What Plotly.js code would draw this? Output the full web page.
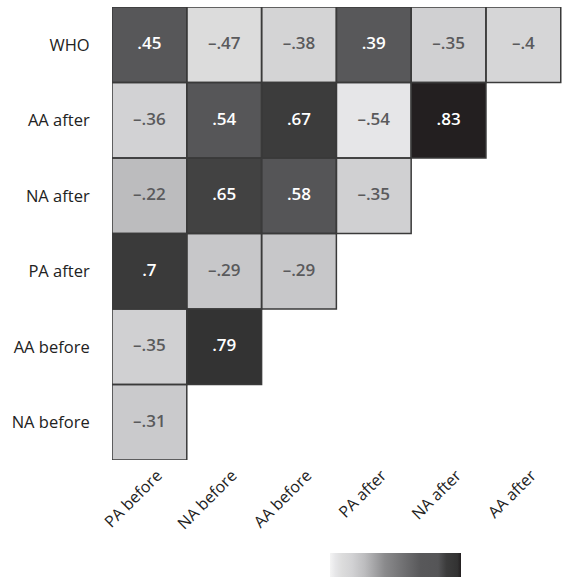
<!DOCTYPE html>
<html>
<head>
<meta charset="utf-8">
<script src="https://cdn.plot.ly/plotly-3.0.1.min.js"></script>
<style>html,body{margin:0;padding:0;background:#fff;}#chart{width:563px;height:577px;}</style>
</head>
<body>
<div id="chart"></div>
<script>
// Column (x) and row (y, top to bottom) labels
const colLabels = ['PA before', 'NA before', 'AA before', 'PA after', 'NA after', 'AA after'];
const rowLabels = ['WHO', 'AA after', 'NA after', 'PA after', 'AA before', 'NA before'];

// Correlation values per row (null = empty cell)
const rowWHO      = [0.45, -0.47, -0.38, 0.39, -0.35, -0.4];
const rowAAafter  = [-0.36, 0.54, 0.67, -0.54, 0.83, null];
const rowNAafter  = [-0.22, 0.65, 0.58, -0.35, null, null];
const rowPAafter  = [0.7, -0.29, -0.29, null, null, null];
const rowAAbefore = [-0.35, 0.79, null, null, null, null];
const rowNAbefore = [-0.31, null, null, null, null, null];

const z = [rowWHO, rowAAafter, rowNAafter, rowPAafter, rowAAbefore, rowNAbefore];

// grayscale colour stops (value -> colour)
const zmin = -0.6, zmax = 0.83;
const stops = [
  [-0.60, '#f4f4f4'],
  [-0.54, '#e6e6e8'],
  [-0.47, '#dcdcdc'],
  [-0.36, '#d2d2d4'],
  [-0.22, '#bcbcbe'],
  [0.0, '#8a8a8c'],
  [0.39, '#58585a'],
  [0.58, '#555557'],
  [0.67, '#3c3c3c'],
  [0.79, '#333333'],
  [0.83, '#231f20']
];
const colorscale = stops.map(s => [(s[0] - zmin) / (zmax - zmin), s[1]]);

const xs = colLabels.map((_, i) => i);
const ys = rowLabels.map((_, j) => j);

function fmt(v) {
  let s = Math.abs(v).toString().replace(/^0/, '');
  return (v < 0 ? '\u2013' : '') + s;
}

// text trace & borders built from data
const tx = [], ty = [], tt = [], tc = [];
const bx = [], by = [];
z.forEach((row, j) => {
  row.forEach((v, i) => {
    if (v === null) return;
    tx.push(i); ty.push(j); tt.push(fmt(v));
    tc.push(v > 0 ? '#ffffff' : '#5a5a5c');
    bx.push(i - 0.5, i + 0.5, i + 0.5, i - 0.5, i - 0.5, null);
    by.push(j - 0.5, j - 0.5, j + 0.5, j + 0.5, j - 0.5, null);
  });
});

const heat = {
  type: 'heatmap',
  x: xs, y: ys, z: z,
  zmin: zmin, zmax: zmax,
  colorscale: colorscale,
  hoverinfo: 'skip',
  colorbar: {
    orientation: 'h',
    x: 0.629, xanchor: 'center',
    y: -0.205, yanchor: 'top', yref: 'paper',
    lenmode: 'pixels', len: 131,
    thicknessmode: 'pixels', thickness: 30,
    outlinewidth: 0,
    showticklabels: false,
    ticks: 'inside', tickcolor: '#ffffff', ticklen: 6, tickwidth: 1,
    tickvals: [-0.2, 0.17, 0.51],
    xpad: 0, ypad: 0
  }
};

const borders = {
  type: 'scatter', mode: 'lines',
  x: bx, y: by,
  line: {color: '#3a3a3a', width: 1.5},
  hoverinfo: 'skip', showlegend: false
};

const labels = {
  type: 'scatter', mode: 'text',
  x: tx, y: ty, text: tt,
  textfont: {family: 'Open Sans, Noto Sans, sans-serif', size: 17, color: tc, weight: 600},
  hoverinfo: 'skip', showlegend: false
};

const layout = {
  width: 563, height: 577,
  margin: {l: 112, r: 0, t: 7, b: 117, autoexpand: false},
  paper_bgcolor: '#ffffff', plot_bgcolor: '#ffffff',
  showlegend: false,
  font: {family: 'Open Sans, Noto Sans, sans-serif', color: '#222', size: 16},
  xaxis: {
    range: [-0.5, 5.53], tickvals: xs, ticktext: colLabels,
    tickangle: -45, showgrid: false, zeroline: false, showline: false,
    ticks: '', ticklabelshift: 8, ticklabelstandoff: 2,
    tickfont: {size: 16, color: '#222'}, fixedrange: true
  },
  yaxis: {
    range: [5.5, -0.5], tickvals: ys, ticktext: rowLabels,
    showgrid: false, zeroline: false, showline: false,
    ticks: 'outside', ticklen: 18, tickcolor: 'rgba(0,0,0,0)',
    tickfont: {size: 16.5, color: '#222'}, fixedrange: true
  }
};

Plotly.newPlot('chart', [heat, borders, labels], layout, {displayModeBar: false, staticPlot: true});
</script>
</body>
</html>
